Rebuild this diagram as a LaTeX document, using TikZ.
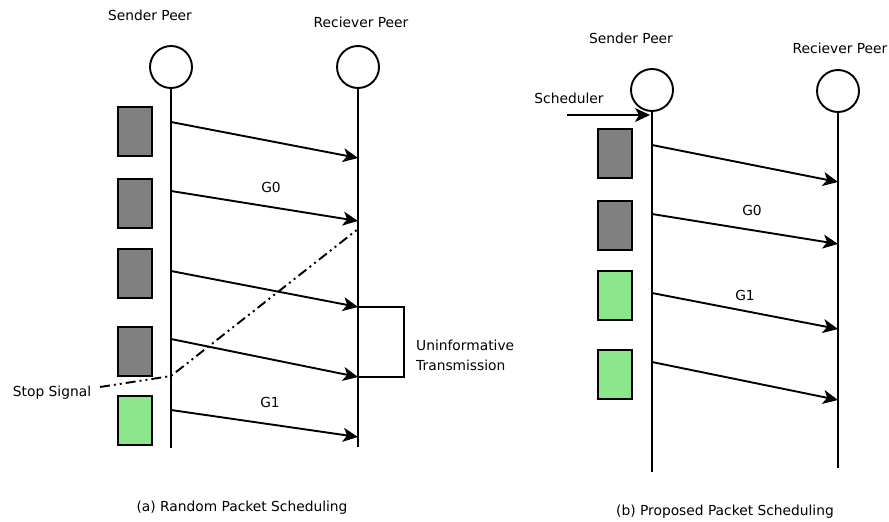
\documentclass[tikz,border=0pt]{standalone}
\usepackage{fontspec}
\setmainfont{DejaVu Sans}
\usetikzlibrary{arrows.meta}
\definecolor{pktgray}{RGB}{128,128,128}
\definecolor{pktgreen}{RGB}{140,230,140}
\tikzset{
    peer/.style={draw, circle, line width=1.9pt, minimum size=42pt, inner sep=0pt},
    life/.style={line width=1.9pt},
    pkt/.style={draw, line width=1.9pt, minimum width=34pt, minimum height=49pt, anchor=north west, inner sep=0pt},
    msg/.style={-{Stealth[length=15pt,width=14pt,inset=4pt]}, line width=1.9pt},
    stopline/.style={line width=1.9pt, dash pattern=on 10pt off 4pt on 2pt off 4pt on 2pt off 4pt},
    lbl/.style={font=\fontsize{13.8}{20}\selectfont, inner sep=0pt},
}
\begin{document}
\begin{tikzpicture}[x=1pt, y=-1pt]
    \useasboundingbox (0,0) rectangle (889,522);
    % (a) random packet scheduling
    \node[lbl] (sendA) at (150,15) {Sender Peer};
    \node[lbl] (recvA) at (361,22) {Reciever Peer};
    \node[peer] (sa) at (171,67) {};
    \node[peer] (ra) at (358,67) {};
    \coordinate (saEnd) at (171,448);
    \coordinate (raEnd) at (358,447);
    \draw[life] (sa) -- (saEnd);
    \draw[life] (ra) -- (raEnd);
    \node[pkt, fill=pktgray] (pa1) at (117,106) {};
    \node[pkt, fill=pktgray] (pa2) at (117,178) {};
    \node[pkt, fill=pktgray] (pa3) at (117,248) {};
    \node[pkt, fill=pktgray] (pa4) at (117,326) {};
    \node[pkt, fill=pktgreen] (pa5) at (117,395) {};
    \foreach \i/\ys/\ye in {1/122/158, 2/191/221, 3/271/307, 4/339/377, 5/410/437} {
        \coordinate (as\i) at (171,\ys);
        \coordinate (ae\i) at (358,\ye);
        \draw[msg] (as\i) -- (ae\i);
    }
    \node[lbl] (g0a) at (271,187) {G0};
    \node[lbl] (g1a) at (270,402) {G1};
    \draw[life] (ae3) -- ++(46,0) |- (ae4);
    \node[lbl, anchor=west, align=left] (uninf) at (416,355) {Uninformative\\Transmission};
    \node[lbl] (stop) at (52,393) {Stop Signal};
    \coordinate (ss0) at (100,387);
    \coordinate (ss1) at (171,376);
    \coordinate (ss2) at (358,229);
    \draw[stopline] (ss0) -- (ss1) -- (ss2);
    \node[lbl] (capA) at (242,508) {(a) Random Packet Scheduling};
    % (b) proposed packet scheduling
    \node[lbl] (sendB) at (631,38) {Sender Peer};
    \node[lbl] (recvB) at (840,48) {Reciever Peer};
    \node[peer] (sb) at (652,90) {};
    \node[peer] (rb) at (838,91) {};
    \coordinate (sbEnd) at (652,472);
    \coordinate (rbEnd) at (838,468);
    \draw[life] (sb) -- (sbEnd);
    \draw[life] (rb) -- (rbEnd);
    \node[lbl] (sched) at (569,98) {Scheduler};
    \coordinate (schIn) at (567,115);
    \coordinate (schOut) at (650,115);
    \draw[msg] (schIn) -- (schOut);
    \node[pkt, fill=pktgray] (pb1) at (597,128) {};
    \node[pkt, fill=pktgray] (pb2) at (597,200) {};
    \node[pkt, fill=pktgreen] (pb3) at (597,270) {};
    \node[pkt, fill=pktgreen] (pb4) at (597,349) {};
    \foreach \i/\ys/\ye in {1/145/182, 2/214/244, 3/293/329, 4/362/400} {
        \coordinate (bs\i) at (652,\ys);
        \coordinate (be\i) at (838,\ye);
        \draw[msg] (bs\i) -- (be\i);
    }
    \node[lbl] (g0b) at (752,210) {G0};
    \node[lbl] (g1b) at (745,295) {G1};
    \node[lbl] (capB) at (725,512) {(b) Proposed Packet Scheduling};
\end{tikzpicture}
\end{document}
